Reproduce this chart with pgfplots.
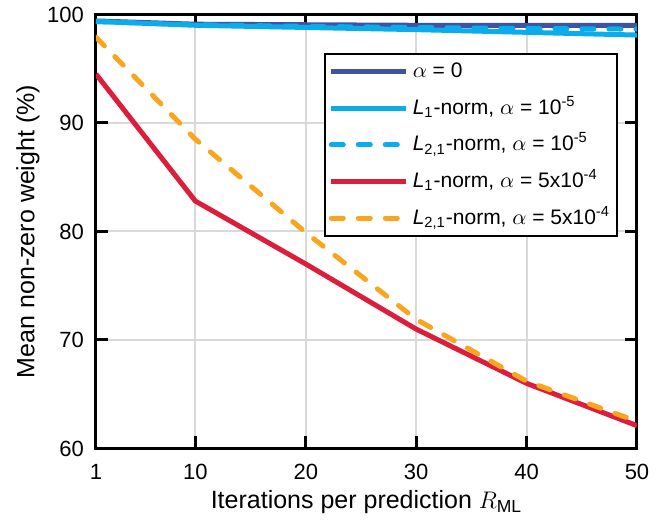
\documentclass[border=0pt]{standalone}
\usepackage{pgfplots}
\pgfplotsset{compat=1.18}
\usepackage{fontspec}
\setmainfont{Liberation Sans}
\definecolor{dblue}{RGB}{62,84,163}
\definecolor{lblue}{RGB}{10,172,236}
\definecolor{cred}{RGB}{220,30,60}
\definecolor{corange}{RGB}{248,166,30}
\begin{document}
\begin{tikzpicture}
\begin{axis}[
  at={(0,0)}, anchor=south west,
  scale only axis, width=270.5pt, height=217pt,
  xmin=1, xmax=50, ymin=60, ymax=100,
  xtick={1,10,20,30,40,50}, ytick={60,70,80,90,100},
  tick align=inside, major tick length=6pt,
  grid=major, grid style={line width=1pt, color=black!15},
  axis line style={line width=1.5pt},
  every tick/.style={black, line width=1.5pt},
  /pgf/number format/assume math mode=true,
  tick label style={font=\fontsize{11}{13}\selectfont},
  xticklabel style={yshift=-4.5pt},
  yticklabel style={xshift=-2.5pt},
  label style={font=\fontsize{12.5}{14}\selectfont},
  xlabel={Iterations per prediction $R_{\mathrm{ML}}$},
  ylabel={Mean non-zero weight (\%)},
  xlabel style={at={(axis description cs:0.5,0)}, anchor=north, yshift=-21pt, inner sep=0pt},
  ylabel style={at={(axis description cs:-0.1257,0.5)}, rotate=0, anchor=center, inner sep=0pt},
  legend style={at={(0.965,0.912)}, anchor=north east, draw=black, line width=1pt,
    font=\fontsize{10.5}{12.5}\selectfont, row sep=4.3pt, inner xsep=2pt,
    nodes={text height=8.5pt, text depth=2.5pt, inner sep=1.5pt}},
  legend cell align=left,
  legend image code/.code={\draw[#1] (0pt,0pt) -- (37.5pt,0pt); \path (38pt,0pt);},
  every axis plot/.append style={line width=2.5pt},
]
\addplot[dblue] coordinates {(1,99.4) (10,99.1) (20,99.05) (30,99.0) (40,99.0) (50,99.0)};
\addlegendentry{$\alpha$ = 0}
\addplot[lblue] coordinates {(1,99.35) (10,99.0) (20,98.8) (30,98.6) (40,98.35) (50,98.1)};
\addlegendentry{\textit{L}\textsubscript{1}-norm, $\alpha$ = 10\textsuperscript{-5}}
\addplot[lblue, dash pattern=on 6pt off 7.5pt, line cap=round] coordinates {(1,99.35) (10,99.05) (20,98.9) (30,98.8) (40,98.7) (50,98.65)};
\addlegendentry{\textit{L}\textsubscript{2,1}-norm, $\alpha$ = 10\textsuperscript{-5}}
\addplot[cred] coordinates {(1,94.5) (10,82.8) (20,77.0) (30,71.0) (40,66.0) (50,62.1)};
\addlegendentry{\textit{L}\textsubscript{1}-norm, $\alpha$ = 5x10\textsuperscript{-4}}
\addplot[corange, dash pattern=on 6pt off 7.5pt, line cap=round] coordinates {(1,97.9) (10,88.5) (20,79.9) (30,71.9) (40,66.2) (50,62.5)};
\addlegendentry{\textit{L}\textsubscript{2,1}-norm, $\alpha$ = 5x10\textsuperscript{-4}}
\end{axis}
\path (-48pt,-36pt) rectangle (285pt,223.5pt);
\end{tikzpicture}
\end{document}
